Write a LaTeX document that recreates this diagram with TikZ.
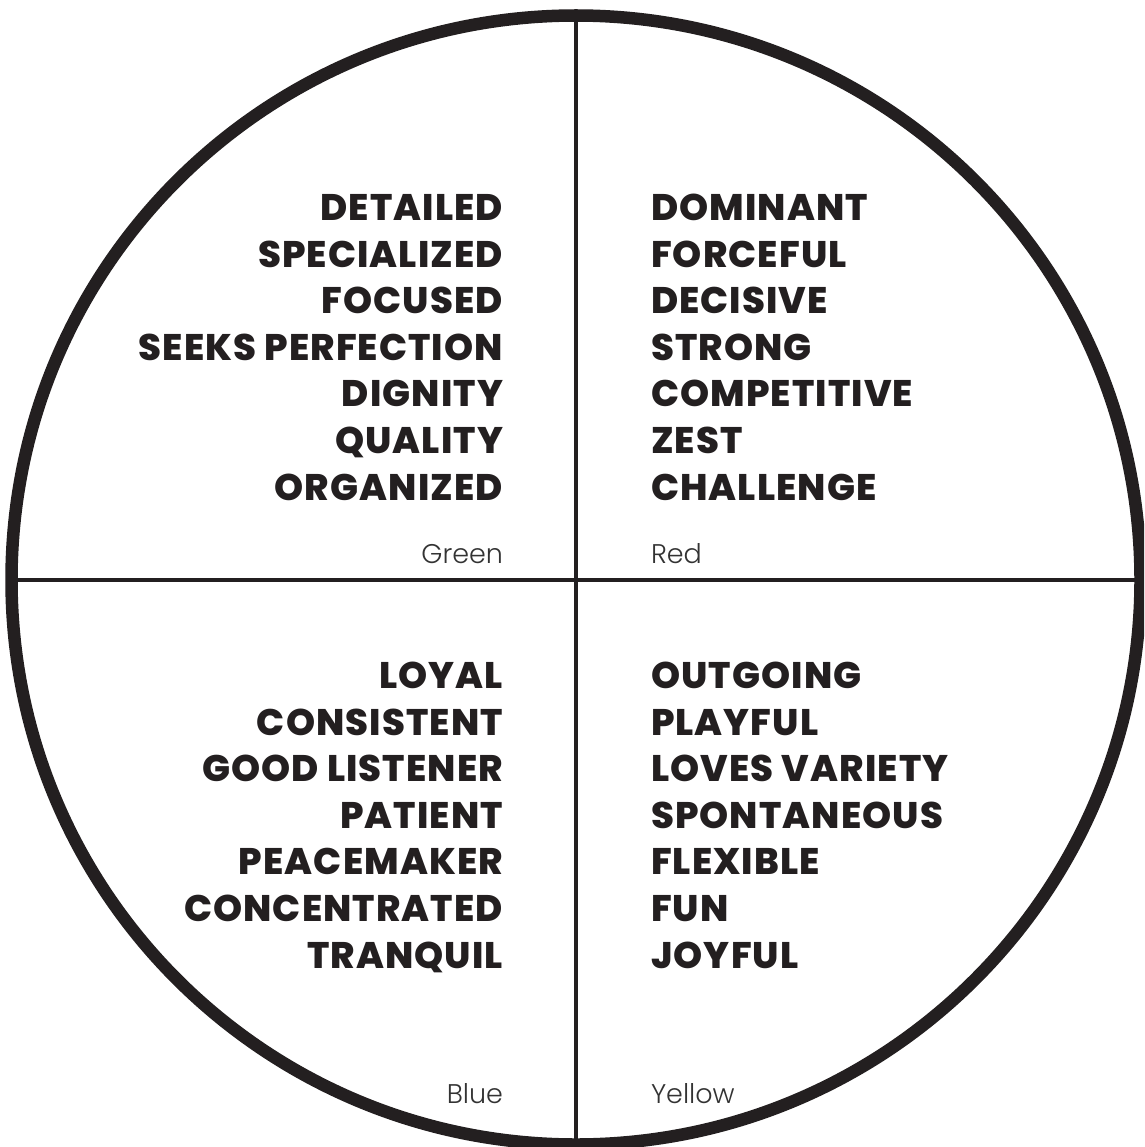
\documentclass[tikz,border=0pt]{standalone}
\usepackage{fontspec}
\newfontfamily\heavyfont{Poppins}[UprightFont={* ExtraBold}, LetterSpace=3]
\newfontfamily\lightfont{Poppins}[UprightFont={* Light}]
\definecolor{ink}{HTML}{231F20}
\definecolor{lbl}{HTML}{333333}
\begin{document}
\begin{tikzpicture}[x=1pt,y=-1pt,
  words/.style={inner sep=0pt, outer sep=0pt, text=ink,
    font=\heavyfont\fontsize{37}{46.6}\selectfont},
  leftwords/.style={words, align=right, anchor=base east},
  rightwords/.style={words, align=left, anchor=base west},
  tag/.style={inner sep=0pt, outer sep=0pt, text=lbl,
    font=\lightfont\fontsize{27}{30}\selectfont},
  divider/.style={draw=ink, line width=4.5pt}]
\useasboundingbox (0,0) rectangle (1144,1147);
\clip (0,0) rectangle (1144,1147);
\node[circle, draw=ink, line width=12.5pt, inner sep=0pt, outer sep=0pt,
  minimum size=1129pt] (ring) at (576,580) {};
\draw[divider] (ring.north) -- (ring.south);
\draw[divider] (ring.west) -- (ring.east);

% anchors sit on the baseline of each block's last line
\node[leftwords] (green) at (503,500) {DETAILED\\SPECIALIZED\\FOCUSED\\SEEKS PERFECTION\\DIGNITY\\QUALITY\\ORGANIZED};
\node[rightwords] (red) at (651,500) {DOMINANT\\FORCEFUL\\DECISIVE\\STRONG\\COMPETITIVE\\ZEST\\CHALLENGE};
\node[leftwords] (blue) at (503,968) {LOYAL\\CONSISTENT\\GOOD LISTENER\\PATIENT\\PEACEMAKER\\CONCENTRATED\\TRANQUIL};
\node[rightwords] (yellow) at (651,968) {OUTGOING\\PLAYFUL\\LOVES VARIETY\\SPONTANEOUS\\FLEXIBLE\\FUN\\JOYFUL};

\node[tag, anchor=base east] (greentag) at (503,563) {Green};
\node[tag, anchor=base west] (redtag) at (651,563) {Red};
\node[tag, anchor=base east] (bluetag) at (503,1103) {Blue};
\node[tag, anchor=base west] (yellowtag) at (651,1103) {Yellow};
\end{tikzpicture}
\end{document}
